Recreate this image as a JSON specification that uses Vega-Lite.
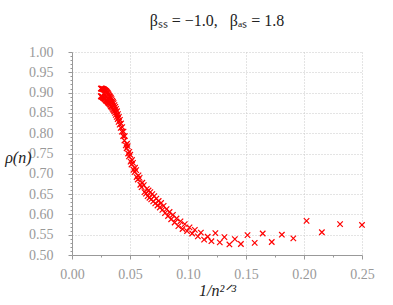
{
  "$schema": "https://vega.github.io/schema/vega-lite/v6.json",
  "width": 290,
  "height": 203,
  "autosize": "none",
  "padding": {"left": 72, "top": 52, "right": 31, "bottom": 50},
  "background": "white",
  "title": {"text": "βₛₛ = −1.0,\u00a0\u00a0\u00a0βₐₛ = 1.8", "font": "Liberation Serif, Times New Roman, serif", "fontSize": 16, "fontWeight": "normal", "color": "#222222", "offset": 16, "anchor": "middle"},
  "config": {
    "view": {"stroke": null},
    "axis": {
      "labelFont": "Liberation Serif, Times New Roman, serif",
      "labelFontSize": 14,
      "labelColor": "#999999",
      "domainColor": "#999999",
      "tickColor": "#999999",
      "gridColor": "#c8c8c8",
      "gridDash": [1, 2],
      "titleFont": "Liberation Serif, Times New Roman, serif",
      "titleFontWeight": "normal",
      "titleFontSize": 16,
      "titleColor": "#222222",
      "labelFlush": false,
      "labelOverlap": false
    }
  },
  "data": {"values": [
    {"n": 8, "x": 0.25, "rho": 0.574},
    {"n": 9, "x": 0.2311, "rho": 0.576},
    {"n": 10, "x": 0.2154, "rho": 0.556},
    {"n": 11, "x": 0.2022, "rho": 0.584},
    {"n": 12, "x": 0.1908, "rho": 0.541},
    {"n": 13, "x": 0.1809, "rho": 0.550},
    {"n": 14, "x": 0.1722, "rho": 0.532},
    {"n": 15, "x": 0.1644, "rho": 0.553},
    {"n": 16, "x": 0.1575, "rho": 0.530},
    {"n": 17, "x": 0.1513, "rho": 0.549},
    {"n": 18, "x": 0.1456, "rho": 0.527},
    {"n": 19, "x": 0.1404, "rho": 0.539},
    {"n": 20, "x": 0.1357, "rho": 0.526},
    {"n": 21, "x": 0.1314, "rho": 0.544},
    {"n": 22, "x": 0.1274, "rho": 0.531},
    {"n": 23, "x": 0.1236, "rho": 0.554},
    {"n": 24, "x": 0.1202, "rho": 0.534},
    {"n": 25, "x": 0.1170, "rho": 0.545},
    {"n": 26, "x": 0.1139, "rho": 0.538},
    {"n": 27, "x": 0.1111, "rho": 0.555},
    {"n": 28, "x": 0.1085, "rho": 0.546},
    {"n": 29, "x": 0.1059, "rho": 0.562},
    {"n": 30, "x": 0.1036, "rho": 0.553},
    {"n": 31, "x": 0.1013, "rho": 0.568},
    {"n": 32, "x": 0.0992, "rho": 0.559},
    {"n": 33, "x": 0.0972, "rho": 0.576},
    {"n": 34, "x": 0.0953, "rho": 0.564},
    {"n": 35, "x": 0.0935, "rho": 0.583},
    {"n": 36, "x": 0.0917, "rho": 0.571},
    {"n": 37, "x": 0.0901, "rho": 0.590},
    {"n": 38, "x": 0.0885, "rho": 0.580},
    {"n": 39, "x": 0.0870, "rho": 0.599},
    {"n": 40, "x": 0.0855, "rho": 0.588},
    {"n": 41, "x": 0.0841, "rho": 0.606},
    {"n": 42, "x": 0.0828, "rho": 0.596},
    {"n": 43, "x": 0.0815, "rho": 0.613},
    {"n": 44, "x": 0.0802, "rho": 0.603},
    {"n": 45, "x": 0.0790, "rho": 0.621},
    {"n": 46, "x": 0.0779, "rho": 0.611},
    {"n": 47, "x": 0.0768, "rho": 0.628},
    {"n": 48, "x": 0.0757, "rho": 0.617},
    {"n": 49, "x": 0.0747, "rho": 0.633},
    {"n": 50, "x": 0.0737, "rho": 0.622},
    {"n": 51, "x": 0.0727, "rho": 0.639},
    {"n": 52, "x": 0.0718, "rho": 0.627},
    {"n": 53, "x": 0.0709, "rho": 0.645},
    {"n": 54, "x": 0.0700, "rho": 0.632},
    {"n": 55, "x": 0.0692, "rho": 0.650},
    {"n": 56, "x": 0.0683, "rho": 0.637},
    {"n": 57, "x": 0.0675, "rho": 0.655},
    {"n": 58, "x": 0.0668, "rho": 0.641},
    {"n": 59, "x": 0.0660, "rho": 0.659},
    {"n": 60, "x": 0.0652, "rho": 0.645},
    {"n": 61, "x": 0.0645, "rho": 0.663},
    {"n": 62, "x": 0.0638, "rho": 0.651},
    {"n": 64, "x": 0.0625, "rho": 0.655},
    {"n": 65, "x": 0.0619, "rho": 0.672},
    {"n": 67, "x": 0.0606, "rho": 0.678},
    {"n": 68, "x": 0.0600, "rho": 0.667},
    {"n": 70, "x": 0.0589, "rho": 0.673},
    {"n": 71, "x": 0.0583, "rho": 0.690},
    {"n": 73, "x": 0.0573, "rho": 0.696},
    {"n": 74, "x": 0.0567, "rho": 0.686},
    {"n": 76, "x": 0.0557, "rho": 0.692},
    {"n": 77, "x": 0.0553, "rho": 0.709},
    {"n": 79, "x": 0.0543, "rho": 0.715},
    {"n": 80, "x": 0.0539, "rho": 0.704},
    {"n": 82, "x": 0.0530, "rho": 0.710},
    {"n": 83, "x": 0.0526, "rho": 0.727},
    {"n": 85, "x": 0.0517, "rho": 0.734},
    {"n": 86, "x": 0.0513, "rho": 0.723},
    {"n": 88, "x": 0.0505, "rho": 0.730},
    {"n": 89, "x": 0.0502, "rho": 0.747},
    {"n": 91, "x": 0.0494, "rho": 0.754},
    {"n": 92, "x": 0.0491, "rho": 0.743},
    {"n": 94, "x": 0.0484, "rho": 0.750},
    {"n": 95, "x": 0.0480, "rho": 0.768},
    {"n": 97, "x": 0.0474, "rho": 0.774},
    {"n": 98, "x": 0.0471, "rho": 0.763},
    {"n": 100, "x": 0.0464, "rho": 0.770},
    {"n": 103, "x": 0.0455, "rho": 0.793},
    {"n": 104, "x": 0.0452, "rho": 0.782},
    {"n": 107, "x": 0.0444, "rho": 0.804},
    {"n": 108, "x": 0.0441, "rho": 0.793},
    {"n": 111, "x": 0.0433, "rho": 0.815},
    {"n": 112, "x": 0.0430, "rho": 0.804},
    {"n": 115, "x": 0.0423, "rho": 0.824},
    {"n": 116, "x": 0.0420, "rho": 0.813},
    {"n": 119, "x": 0.0413, "rho": 0.833},
    {"n": 120, "x": 0.0411, "rho": 0.821},
    {"n": 123, "x": 0.0404, "rho": 0.840},
    {"n": 124, "x": 0.0402, "rho": 0.828},
    {"n": 127, "x": 0.0396, "rho": 0.847},
    {"n": 128, "x": 0.0394, "rho": 0.835},
    {"n": 131, "x": 0.0388, "rho": 0.854},
    {"n": 132, "x": 0.0386, "rho": 0.840},
    {"n": 135, "x": 0.0380, "rho": 0.860},
    {"n": 136, "x": 0.0378, "rho": 0.845},
    {"n": 139, "x": 0.0373, "rho": 0.865},
    {"n": 140, "x": 0.0371, "rho": 0.850},
    {"n": 143, "x": 0.0366, "rho": 0.869},
    {"n": 144, "x": 0.0364, "rho": 0.854},
    {"n": 147, "x": 0.0359, "rho": 0.874},
    {"n": 148, "x": 0.0357, "rho": 0.857},
    {"n": 151, "x": 0.0353, "rho": 0.877},
    {"n": 152, "x": 0.0351, "rho": 0.860},
    {"n": 155, "x": 0.0347, "rho": 0.880},
    {"n": 156, "x": 0.0345, "rho": 0.863},
    {"n": 159, "x": 0.0341, "rho": 0.884},
    {"n": 160, "x": 0.0339, "rho": 0.865},
    {"n": 163, "x": 0.0335, "rho": 0.887},
    {"n": 164, "x": 0.0334, "rho": 0.867},
    {"n": 167, "x": 0.0330, "rho": 0.889},
    {"n": 168, "x": 0.0329, "rho": 0.870},
    {"n": 171, "x": 0.0325, "rho": 0.891},
    {"n": 172, "x": 0.0323, "rho": 0.872},
    {"n": 175, "x": 0.0320, "rho": 0.893},
    {"n": 176, "x": 0.0318, "rho": 0.874},
    {"n": 179, "x": 0.0315, "rho": 0.896},
    {"n": 180, "x": 0.0314, "rho": 0.875},
    {"n": 183, "x": 0.0310, "rho": 0.898},
    {"n": 184, "x": 0.0309, "rho": 0.876},
    {"n": 187, "x": 0.0306, "rho": 0.900},
    {"n": 188, "x": 0.0305, "rho": 0.878},
    {"n": 191, "x": 0.0302, "rho": 0.901},
    {"n": 192, "x": 0.0300, "rho": 0.880},
    {"n": 195, "x": 0.0297, "rho": 0.903},
    {"n": 196, "x": 0.0296, "rho": 0.880},
    {"n": 199, "x": 0.0293, "rho": 0.904},
    {"n": 200, "x": 0.0292, "rho": 0.881},
    {"n": 204, "x": 0.0289, "rho": 0.882},
    {"n": 205, "x": 0.0288, "rho": 0.905},
    {"n": 209, "x": 0.0284, "rho": 0.906},
    {"n": 210, "x": 0.0283, "rho": 0.884},
    {"n": 214, "x": 0.0280, "rho": 0.885},
    {"n": 215, "x": 0.0279, "rho": 0.907},
    {"n": 219, "x": 0.0275, "rho": 0.908},
    {"n": 220, "x": 0.0274, "rho": 0.886},
    {"n": 224, "x": 0.0271, "rho": 0.887},
    {"n": 225, "x": 0.0270, "rho": 0.908},
    {"n": 229, "x": 0.0267, "rho": 0.909},
    {"n": 230, "x": 0.0266, "rho": 0.888},
    {"n": 234, "x": 0.0263, "rho": 0.889},
    {"n": 235, "x": 0.0263, "rho": 0.909},
    {"n": 239, "x": 0.0260, "rho": 0.910},
    {"n": 240, "x": 0.0259, "rho": 0.890},
    {"n": 244, "x": 0.0256, "rho": 0.890},
    {"n": 245, "x": 0.0255, "rho": 0.910},
    {"n": 249, "x": 0.0253, "rho": 0.910},
    {"n": 250, "x": 0.0252, "rho": 0.891},
    {"n": 254, "x": 0.0249, "rho": 0.891},
    {"n": 255, "x": 0.0249, "rho": 0.910}
  ]},
  "mark": {"type": "point", "shape": "M-1,-1L1,1M-1,1L1,-1", "filled": false, "color": "#ff0000", "size": 30, "strokeWidth": 1.2, "opacity": 1},
  "encoding": {
    "x": {
      "field": "x", "type": "quantitative",
      "scale": {"domain": [0, 0.25], "nice": false, "zero": false},
      "axis": {
        "title": "1/n²ᐟ³",
        "values": [0, 0.025, 0.05, 0.075, 0.1, 0.125, 0.15, 0.175, 0.2, 0.225, 0.25],
        "labelExpr": "round(datum.value * 1000) % 50 == 0 ? format(datum.value, '.2f') : ''",
        "grid": true,
        "gridOpacity": {"condition": {"test": "round(datum.value * 1000) % 50 == 0 && datum.value > 0", "value": 1}, "value": 0},
        "tickSize": {"condition": {"test": "round(datum.value * 1000) % 50 == 0", "value": 4}, "value": 2},
        "labelPadding": 8,
        "titleY": 35,
        "titleBaseline": "middle",
        "titleFontStyle": "italic"
      }
    },
    "y": {
      "field": "rho", "type": "quantitative",
      "scale": {"domain": [0.5, 1.0], "nice": false, "zero": false},
      "axis": {
        "title": "ρ(n)",
        "values": [0.5, 0.51, 0.52, 0.53, 0.54, 0.55, 0.56, 0.57, 0.58, 0.59, 0.6, 0.61, 0.62, 0.63, 0.64, 0.65, 0.66, 0.67, 0.68, 0.69, 0.7, 0.71, 0.72, 0.73, 0.74, 0.75, 0.76, 0.77, 0.78, 0.79, 0.8, 0.81, 0.82, 0.83, 0.84, 0.85, 0.86, 0.87, 0.88, 0.89, 0.9, 0.91, 0.92, 0.93, 0.94, 0.95, 0.96, 0.97, 0.98, 0.99, 1.0],
        "labelExpr": "round(datum.value * 100) % 5 == 0 ? format(datum.value, '.2f') : ''",
        "grid": true,
        "gridOpacity": {"condition": {"test": "round(datum.value * 100) % 5 == 0 && datum.value > 0.5", "value": 1}, "value": 0},
        "tickSize": {"condition": {"test": "round(datum.value * 100) % 5 == 0", "value": 4}, "value": 2},
        "labelPadding": 15,
        "titleAngle": 0,
        "titleAlign": "right",
        "titleBaseline": "middle",
        "titleX": -41,
        "titleY": 105,
        "titleFontStyle": "italic"
      }
    }
  }
}
